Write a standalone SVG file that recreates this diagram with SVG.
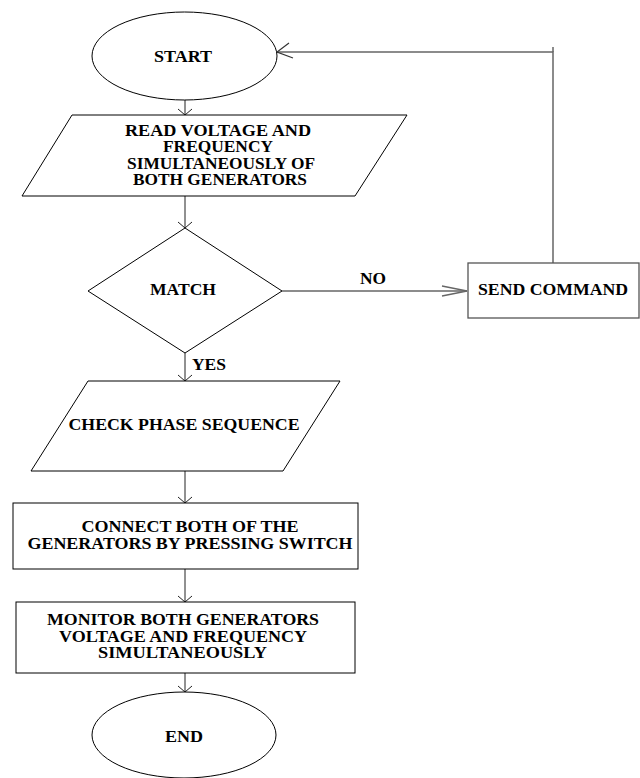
<svg xmlns="http://www.w3.org/2000/svg" width="640" height="778" viewBox="0 0 640 778">
<style>
.shape{fill:#fff;stroke:#000;stroke-width:1}
.gshape{fill:#fff;stroke:#555;stroke-width:1.3}
.conn{fill:none;stroke:#222;stroke-width:1}
.gconn{fill:none;stroke:#666;stroke-width:1.5}
text{font-family:"Liberation Serif","Times New Roman",serif;font-weight:bold;font-size:16px;fill:#000;text-anchor:middle}
</style>
<defs>
<marker id="ah" markerUnits="userSpaceOnUse" markerWidth="20" markerHeight="20" viewBox="-10 -10 20 20" refX="0" refY="0" orient="auto">
<path d="M-6,-7 L0,0 L-6,7" fill="none" stroke="#222" stroke-width="1"/>
</marker>
<marker id="ahNo" markerUnits="userSpaceOnUse" markerWidth="60" markerHeight="30" viewBox="-30 -15 60 30" refX="0" refY="0" orient="auto">
<path d="M-25,-5 L0,0 L-25,5" fill="none" stroke="#666" stroke-width="1.3"/>
</marker>
<marker id="ahFb" markerUnits="userSpaceOnUse" markerWidth="40" markerHeight="40" viewBox="-20 -20 40 40" refX="0" refY="0" orient="auto">
<path d="M-16,-6 L0,0 L-12,9" fill="none" stroke="#333" stroke-width="1.2"/>
</marker>
</defs>

<g id="connectors">
<line class="conn" x1="185" y1="100" x2="185" y2="115" marker-end="url(#ah)"/>
<line class="conn" x1="185" y1="196" x2="185" y2="228" marker-end="url(#ah)"/>
<line class="gconn" x1="282" y1="291" x2="467" y2="291" marker-end="url(#ahNo)"/>
<polyline class="gconn" points="553,263 553,52 277,52" marker-end="url(#ahFb)"/>
<line class="gconn" x1="553" y1="52" x2="553" y2="47"/>
<line class="conn" x1="185" y1="353" x2="185" y2="381" marker-end="url(#ah)"/>
<line class="conn" x1="185" y1="471" x2="185" y2="503" marker-end="url(#ah)"/>
<line class="conn" x1="185" y1="569" x2="185" y2="602" marker-end="url(#ah)"/>
<line class="conn" x1="185" y1="673" x2="185" y2="692" marker-end="url(#ah)"/>
<text x="373" y="284" textLength="26" lengthAdjust="spacingAndGlyphs">NO</text>
<text x="209" y="370" textLength="34" lengthAdjust="spacingAndGlyphs">YES</text>
</g>

<g id="start">
<ellipse class="shape" cx="184.5" cy="56" rx="92.5" ry="44"/>
<text x="183" y="61.5" textLength="58" lengthAdjust="spacingAndGlyphs">START</text>
</g>

<g id="read">
<polygon class="shape" points="72,115 407,115 355,196 22,196"/>
<text x="218" y="135.5" textLength="186" lengthAdjust="spacingAndGlyphs">READ VOLTAGE AND</text>
<text x="218" y="152" textLength="110" lengthAdjust="spacingAndGlyphs">FREQUENCY</text>
<text x="221" y="168.7" textLength="188" lengthAdjust="spacingAndGlyphs">SIMULTANEOUSLY OF</text>
<text x="220" y="185.3" textLength="174" lengthAdjust="spacingAndGlyphs">BOTH GENERATORS</text>
</g>

<g id="match">
<polygon class="shape" points="185,228 282,291 185,353 88,291"/>
<text x="183" y="295" textLength="66" lengthAdjust="spacingAndGlyphs">MATCH</text>
</g>

<g id="send">
<rect class="gshape" x="468" y="263" width="171" height="55"/>
<text x="553" y="295" textLength="150" lengthAdjust="spacingAndGlyphs">SEND COMMAND</text>
</g>

<g id="check">
<polygon class="shape" points="88,381 340,381 283,471 31,471"/>
<text x="184" y="430" textLength="231" lengthAdjust="spacingAndGlyphs">CHECK PHASE SEQUENCE</text>
</g>

<g id="connect">
<rect class="shape" x="13" y="503" width="345" height="66"/>
<text x="190" y="532" textLength="217" lengthAdjust="spacingAndGlyphs">CONNECT BOTH OF THE</text>
<text x="190" y="549" textLength="325" lengthAdjust="spacingAndGlyphs">GENERATORS BY PRESSING SWITCH</text>
</g>

<g id="monitor">
<rect class="shape" x="16" y="602" width="339" height="71"/>
<text x="183" y="625" textLength="272" lengthAdjust="spacingAndGlyphs">MONITOR BOTH GENERATORS</text>
<text x="183" y="642" textLength="248" lengthAdjust="spacingAndGlyphs">VOLTAGE AND FREQUENCY</text>
<text x="182.5" y="658" textLength="169" lengthAdjust="spacingAndGlyphs">SIMULTANEOUSLY</text>
</g>

<g id="end">
<ellipse class="shape" cx="184" cy="735" rx="92" ry="43"/>
<text x="184" y="742" textLength="38" lengthAdjust="spacingAndGlyphs">END</text>
</g>
</svg>
